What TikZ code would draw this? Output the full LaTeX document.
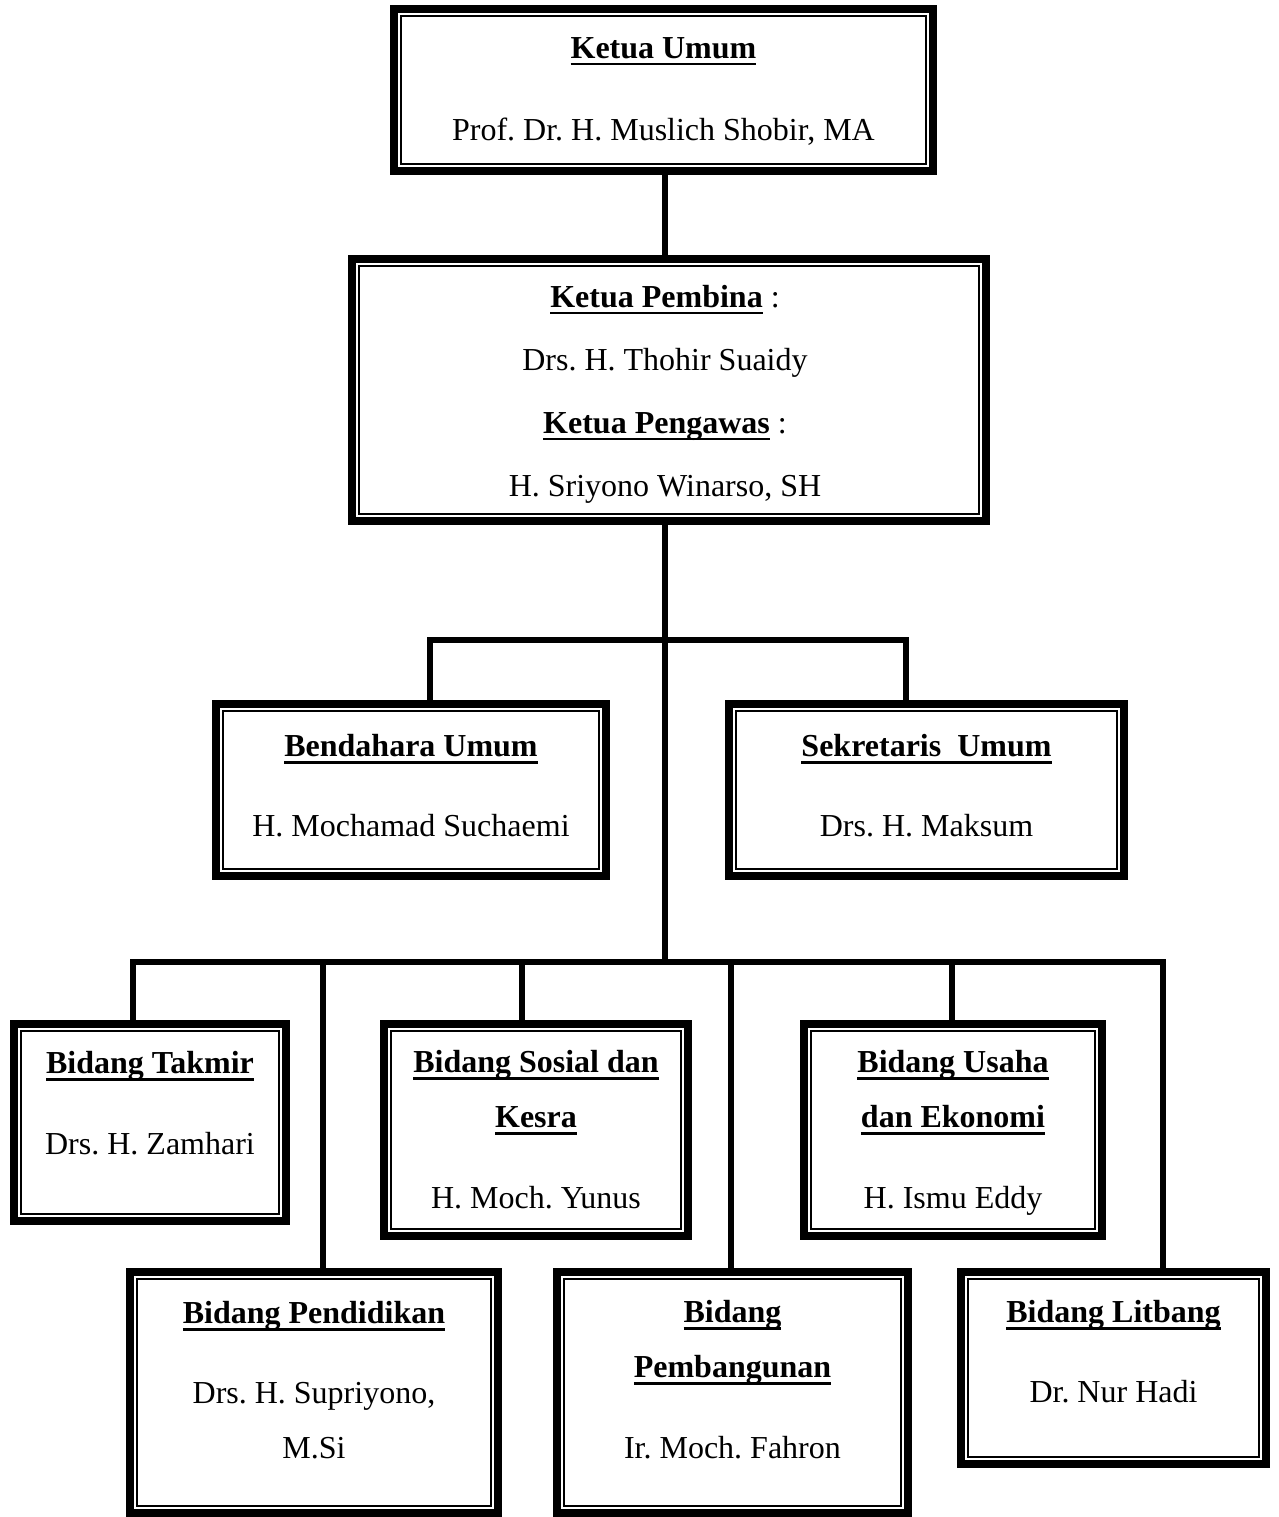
\documentclass[tikz,border=0pt]{standalone}
\usepackage{fontspec}
\setmainfont{Liberation Serif}
\usepackage{tikz}
\frenchspacing

\newlength{\ttlw}
\newcommand{\ttl}[1]{\settowidth{\ttlw}{\textbf{#1}}\textbf{#1}\hspace{-\ttlw}\rule[-3.6pt]{\ttlw}{1.3pt}}

\tikzset{
  unitbox/.style={draw, line width=4pt, inner sep=0pt},
  unittext/.style={align=center, font=\fontsize{16}{27.5}\selectfont},
  link/.style={line width=3pt}
}

\begin{document}
\begin{tikzpicture}[x=0.5pt, y=-0.5pt]
        \useasboundingbox (0,0) rectangle (1279,1517);

        % The boxes
        \node[unitbox, minimum width=269.5pt, minimum height=81pt] (umum) at (663.5,90) {};
        \node[unitbox, minimum width=317pt, minimum height=131pt] (pembina) at (669,390) {};
        \node[unitbox, minimum width=195pt, minimum height=86pt] (bendahara) at (411,790) {};
        \node[unitbox, minimum width=197.5pt, minimum height=86pt] (sekretaris) at (926.5,790) {};
        \node[unitbox, minimum width=136pt, minimum height=98.5pt] (takmir) at (150,1122.5) {};
        \node[unitbox, minimum width=152pt, minimum height=106pt] (sosial) at (536,1130) {};
        \node[unitbox, minimum width=149pt, minimum height=106pt] (usaha) at (953,1130) {};
        \node[unitbox, minimum width=184pt, minimum height=120.5pt] (pendidikan) at (314,1392.5) {};
        \node[unitbox, minimum width=175.5pt, minimum height=120.5pt] (pembangunan) at (732.5,1392.5) {};
        \node[unitbox, minimum width=152.5pt, minimum height=96pt] (litbang) at (1113.5,1368) {};

        % Inner thin frames
        \foreach \n in {umum,pembina,bendahara,sekretaris,takmir,sosial,usaha,pendidikan,pembangunan,litbang}
            \draw[line width=1pt] ([shift={(5.5pt,-5.5pt)}]\n.north west) rectangle ([shift={(-5.5pt,5.5pt)}]\n.south east);

        % Texts in the boxes
        \node[unittext] (umum-t) at (umum |- 0,91) {\ttl{Ketua Umum}\\[13.5pt] Prof. Dr. H. Muslich Shobir, MA};
        \node[unittext] (pembina-t) at (665,394) {\ttl{Ketua Pembina} :\\[4pt] Drs. H. Thohir Suaidy\\[4pt] \ttl{Ketua Pengawas} :\\[4pt] H. Sriyono Winarso, SH};
        \node[unittext] (bendahara-t) at (bendahara |- 0,786) {\ttl{Bendahara Umum}\\[12.5pt] H. Mochamad Suchaemi};
        \node[unittext] (sekretaris-t) at (sekretaris |- 0,786) {\ttl{Sekretaris\ \ Umum}\\[12.5pt] Drs. H. Maksum};
        \node[unittext] (takmir-t) at (takmir |- 0,1103) {\ttl{Bidang Takmir}\\[13pt] Drs. H. Zamhari};
        \node[unittext] (sosial-t) at (sosial |- 0,1130) {\ttl{Bidang Sosial dan}\\ \ttl{Kesra}\\[13pt] H. Moch. Yunus};
        \node[unittext] (usaha-t) at (usaha |- 0,1133) {\ttl{Bidang Usaha}\\ \ttl{dan Ekonomi}\\[13pt] H. Ismu Eddy};
        \node[unittext] (pendidikan-t) at (pendidikan |- 0,1380) {\ttl{Bidang Pendidikan}\\[12.5pt] Drs. H. Supriyono,\\ M.Si};
        \node[unittext] (pembangunan-t) at (pembangunan |- 0,1380) {\ttl{Bidang}\\ \ttl{Pembangunan}\\[13pt] Ir. Moch. Fahron};
        \node[unittext] (litbang-t) at (litbang |- 0,1352) {\ttl{Bidang Litbang}\\[12.5pt] Dr. Nur Hadi};

        % Bus points
        \coordinate (top) at (665,640);
        \coordinate (bot) at (665,962);
        \coordinate (b1) at (430,640);
        \coordinate (b2) at (906,640);
        \coordinate (c1) at (133,962);
        \coordinate (c2) at (323,962);
        \coordinate (c3) at (522,962);
        \coordinate (c4) at (731,962);
        \coordinate (c5) at (952,962);
        \coordinate (c6) at (1163,962);

        % Connectors
        \draw[link] (umum.south -| top) -- (pembina.north -| top);
        \draw[link] (pembina.south -| top) -- (bot);
        \draw[link] (bendahara.north -| b1) -- (b1) -- (b2) -- (sekretaris.north -| b2);
        \draw[link] (takmir.north -| c1) -- (c1) -- (c6) -- (litbang.north -| c6);
        \draw[link] (c2) -- (pendidikan.north -| c2);
        \draw[link] (c3) -- (sosial.north -| c3);
        \draw[link] (c4) -- (pembangunan.north -| c4);
        \draw[link] (c5) -- (usaha.north -| c5);
    \end{tikzpicture}
\end{document}
